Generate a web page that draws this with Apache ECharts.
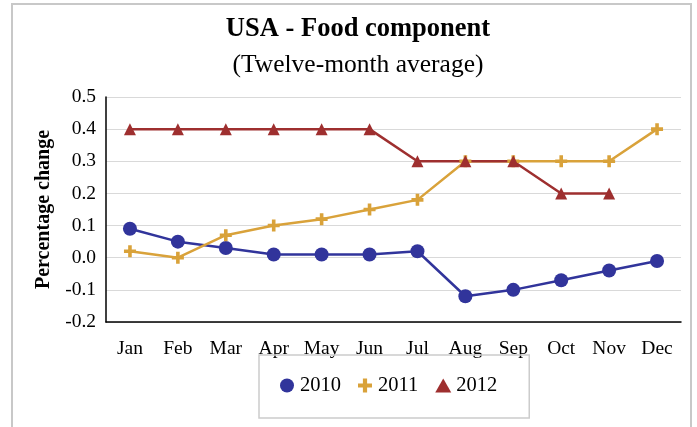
<!DOCTYPE html>
<html>
<head>
<meta charset="utf-8">
<script src="https://cdn.jsdelivr.net/npm/echarts@6/dist/echarts.min.js"></script>
<style>html,body{margin:0;padding:0;background:#fff;}#c{width:697px;height:427px;}</style>
</head>
<body>
<div id="c"></div>
<script>
const categories = ['Jan','Feb','Mar','Apr','May','Jun','Jul','Aug','Sep','Oct','Nov','Dec'];
const s2010 = [0.09, 0.05, 0.03, 0.01, 0.01, 0.01, 0.02, -0.12, -0.10, -0.07, -0.04, -0.01];
const s2011 = [0.02, 0.00, 0.07, 0.10, 0.12, 0.15, 0.18, 0.30, 0.30, 0.30, 0.30, 0.40];
const s2012 = [0.40, 0.40, 0.40, 0.40, 0.40, 0.40, 0.30, 0.30, 0.30, 0.20, 0.20, null];
const seriesNames = ['2010','2011','2012'];

const FONT = "'Liberation Serif', 'DejaVu Serif', serif";
const plusPath = 'path://M7,0H13V7H20V13H13V20H7V13H0V7H7Z';
const chart = echarts.init(document.getElementById('c'));
chart.setOption({
  animation: false,
  backgroundColor: '#ffffff',
  textStyle: { fontFamily: FONT, color: '#000' },
  graphic: [{
    type: 'rect', shape: { x: 12, y: 4, width: 679, height: 440 },
    style: { fill: 'none', stroke: '#c8c8c8', lineWidth: 2 }, silent: true
  }],
  title: {
    text: 'USA - Food component',
    subtext: '(Twelve-month average)',
    left: 353, top: 11, textAlign: 'center',
    itemGap: 9,
    textStyle: { fontFamily: FONT, fontSize: 26.5, fontWeight: 'bold', color: '#000' },
    subtextStyle: { fontFamily: FONT, fontSize: 25.5, color: '#000' }
  },
  legend: {
    data: [
      { name: '2010', icon: 'circle' },
      { name: '2011', icon: plusPath },
      { name: '2012', icon: 'triangle' }
    ],
    left: 259, top: 355,
    padding: [20, 32, 22, 21],
    itemWidth: 16, itemHeight: 14, itemGap: 17,
    borderColor: '#cccccc', borderWidth: 1.5,
    textStyle: { fontFamily: FONT, fontSize: 20.5, color: '#000' }
  },
  grid: { left: 106, right: 16, top: 97, bottom: 105, containLabel: false },
  xAxis: {
    type: 'category', data: categories, boundaryGap: true,
    axisLine: { onZero: false, lineStyle: { color: '#000', width: 1.5 } },
    axisTick: { show: false },
    axisLabel: { fontFamily: FONT, fontSize: 19.5, color: '#000', margin: 17, interval: 0 }
  },
  yAxis: {
    type: 'value', min: -0.2, max: 0.5, interval: 0.1,
    name: 'Percentage change', nameLocation: 'middle', nameGap: 52,
    nameTextStyle: { fontFamily: FONT, fontSize: 20, fontWeight: 'bold', color: '#000' },
    axisLine: { show: true, lineStyle: { color: '#000', width: 1.5 } },
    axisTick: { show: false },
    splitLine: { lineStyle: { color: '#d9d9d9', width: 1.2 } },
    axisLabel: { fontFamily: FONT, fontSize: 19.5, color: '#000', margin: 10,
      formatter: v => v.toFixed(1) }
  },
  series: [
    { name: seriesNames[0], type: 'line', data: s2010, symbol: 'circle', symbolSize: 14,
      itemStyle: { color: '#31349B' }, lineStyle: { color: '#31349B', width: 2.5 } },
    { name: seriesNames[1], type: 'line', data: s2011, symbol: plusPath, symbolSize: 12,
      itemStyle: { color: '#D9A23A' }, lineStyle: { color: '#D9A23A', width: 2.5 } },
    { name: seriesNames[2], type: 'line', data: s2012, symbol: 'triangle', symbolSize: 12,
      itemStyle: { color: '#9E2F2F' }, lineStyle: { color: '#9E2F2F', width: 2.5 } }
  ]
});
</script>
</body>
</html>
